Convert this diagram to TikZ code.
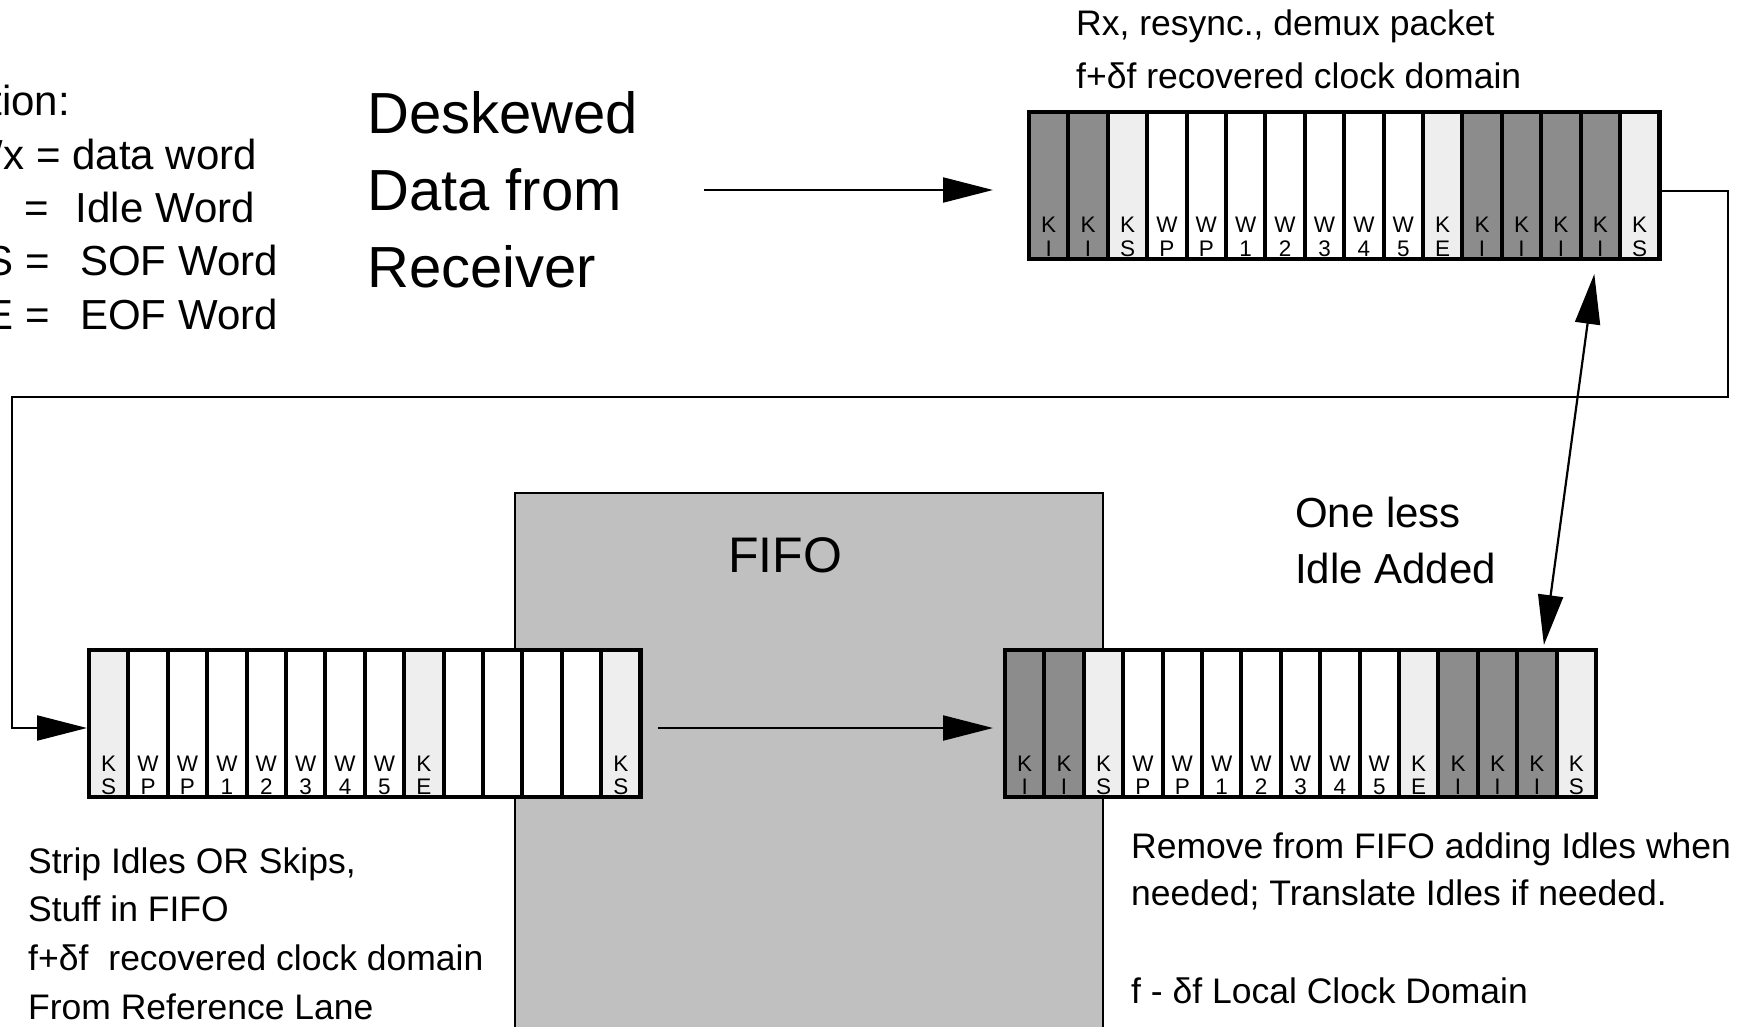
\documentclass[tikz,border=0pt]{standalone}
\usepackage{fontspec}
\setmainfont{Liberation Sans}
\usetikzlibrary{arrows.meta}
\definecolor{cdark}{HTML}{8C8C8C}
\definecolor{clight}{HTML}{EEEEEE}
\definecolor{cwhite}{HTML}{FFFFFF}
\definecolor{cfifo}{HTML}{C0C0C0}
\tikzset{
  regcell/.style={minimum width=39.4pt, minimum height=147pt, inner sep=0pt, outer sep=0pt, fill=#1, anchor=north west},
  lbl/.style={font=\fontsize{22.5}{22.5}\selectfont, inner sep=0pt, anchor=base},
  regbox/.style={draw, line width=4.5pt, inner sep=0pt, outer sep=0pt, minimum height=147pt, anchor=north west},
  cellsep/.style={line width=4pt},
  arr/.style={line width=2.2pt, -{Triangle[length=50pt,width=25pt]}},
  darr/.style={line width=2.2pt, {Triangle[length=50pt,width=25pt]}-{Triangle[length=50pt,width=25pt]}},
  txt/.style={font=\fontsize{35.5}{35.5}\selectfont, inner sep=0pt, anchor=base west},
  txtb/.style={font=\fontsize{42}{42}\selectfont, inner sep=0pt, anchor=base west},
  legend/.style={font=\fontsize{42}{42}\selectfont, inner sep=0pt, anchor=base east},
  bigtxt/.style={font=\fontsize{58}{77}\selectfont, inner sep=0pt, align=left, anchor=west},
  fifobox/.style={draw, line width=2pt, fill=cfifo, inner sep=0pt, anchor=north west},
  fifotxt/.style={font=\fontsize{50}{50}\selectfont, inner sep=0pt, anchor=base},
}
\newcommand{\cellrow}[4]{%
  \foreach \st/\a/\b [count=\i from 0] in {#4} {
    \node[regcell=\st] (#1\i) at ({#2+\i*39.4},#3) {};
    \node[lbl] at ([yshift=26pt]#1\i.south) {\a};
    \node[lbl] at ([yshift=3pt]#1\i.south) {\b};
  }
  \foreach \st/\a/\b [count=\i from 0] in {#4} {
    \draw[cellsep] (#1\i.north west) rectangle (#1\i.south east);
  }
}
\begin{document}
\begin{tikzpicture}[x=1pt,y=-1pt]
\useasboundingbox (0,0) rectangle (1743,1027);
\fill[white] (0,0) rectangle (1743,1027);
\clip (0,0) rectangle (1743,1027);

% legend (cut at the left edge, as in the reference)
\node[legend] (lg1) at (70,116) {tion:};
\node[legend] (lg2) at (257,170) {Wx = data word};
\node[legend] (lg3) at (255,223) {=\hspace{27pt}Idle Word};
\node[legend] (lg4) at (278,276) {S\hspace{12pt}=\hspace{30pt}SOF Word};
\node[legend] (lg5) at (278,329) {E\hspace{12pt}=\hspace{30pt}EOF Word};

% deskewed text
\node[bigtxt] (desk) at (367,190) {Deskewed\\Data from\\Receiver};

% top texts
\node[txt] (rx1) at (1076,36) {Rx, resync., demux packet};
\node[txt] (rx2) at (1076,89) {f+δf recovered clock domain};

% FIFO
\node[fifobox, minimum width=588pt, minimum height=600pt] (fifo) at (514,492) {};
\node[fifotxt] (fifol) at (785,572) {FIFO};

% One less idle added
\node[txtb] (one1) at (1295,527) {One less};
\node[txtb] (one2) at (1295,583) {Idle Added};

% registers
\cellrow{t}{1029}{112}{cdark/K/I, cdark/K/I, clight/K/S, cwhite/W/P, cwhite/W/P, cwhite/W/1, cwhite/W/2, cwhite/W/3, cwhite/W/4, cwhite/W/5, clight/K/E, cdark/K/I, cdark/K/I, cdark/K/I, cdark/K/I, clight/K/S}
\node[regbox, minimum width=630.4pt] (top) at (1029,112) {};

\cellrow{l}{89}{650}{clight/K/S, cwhite/W/P, cwhite/W/P, cwhite/W/1, cwhite/W/2, cwhite/W/3, cwhite/W/4, cwhite/W/5, clight/K/E, cwhite/{}/{}, cwhite/{}/{}, cwhite/{}/{}, cwhite/{}/{}, clight/K/S}
\node[regbox, minimum width=551.6pt] (bl) at (89,650) {};

\cellrow{r}{1005}{650}{cdark/K/I, cdark/K/I, clight/K/S, cwhite/W/P, cwhite/W/P, cwhite/W/1, cwhite/W/2, cwhite/W/3, cwhite/W/4, cwhite/W/5, clight/K/E, cdark/K/I, cdark/K/I, cdark/K/I, clight/K/S}
\node[regbox, minimum width=591pt] (br) at (1005,650) {};

% bottom texts
\node[txt] (sl1) at (28,873) {Strip Idles OR Skips,};
\node[txt] (sl2) at (28,921) {Stuff in FIFO};
\node[txt] (sl3) at (28,970) {f+δf\hspace{20pt}recovered clock domain};
\node[txt] (sl4) at (28,1019) {From Reference Lane};

\node[txt] (sr1) at (1131,858) {Remove from FIFO adding Idles when};
\node[txt] (sr2) at (1131,905) {needed; Translate Idles if needed.};
\node[txt] (sr3) at (1131,1003) {f - δf Local Clock Domain};

% connectors
\coordinate (loopR) at (1728,397);
\coordinate (loopL) at (12,397);
\draw[arr] ([xshift=66pt]desk.east) -- ([xshift=-36pt]top.west |- desk.east);
\draw[arr, shorten >=2pt] ([xshift=3pt,yshift=-5.5pt]top.east) -| (loopR) -- (loopL) |- ([yshift=-4.5pt]bl.west);
\draw[arr] ([xshift=17pt,yshift=-4.5pt]bl.east) -- ([xshift=-12pt,yshift=-4.5pt]br.west);
\draw[darr] ([xshift=-6pt,yshift=-15pt]t14.south) -- ([xshift=7pt,yshift=5pt]r13.north);
\end{tikzpicture}
\end{document}
